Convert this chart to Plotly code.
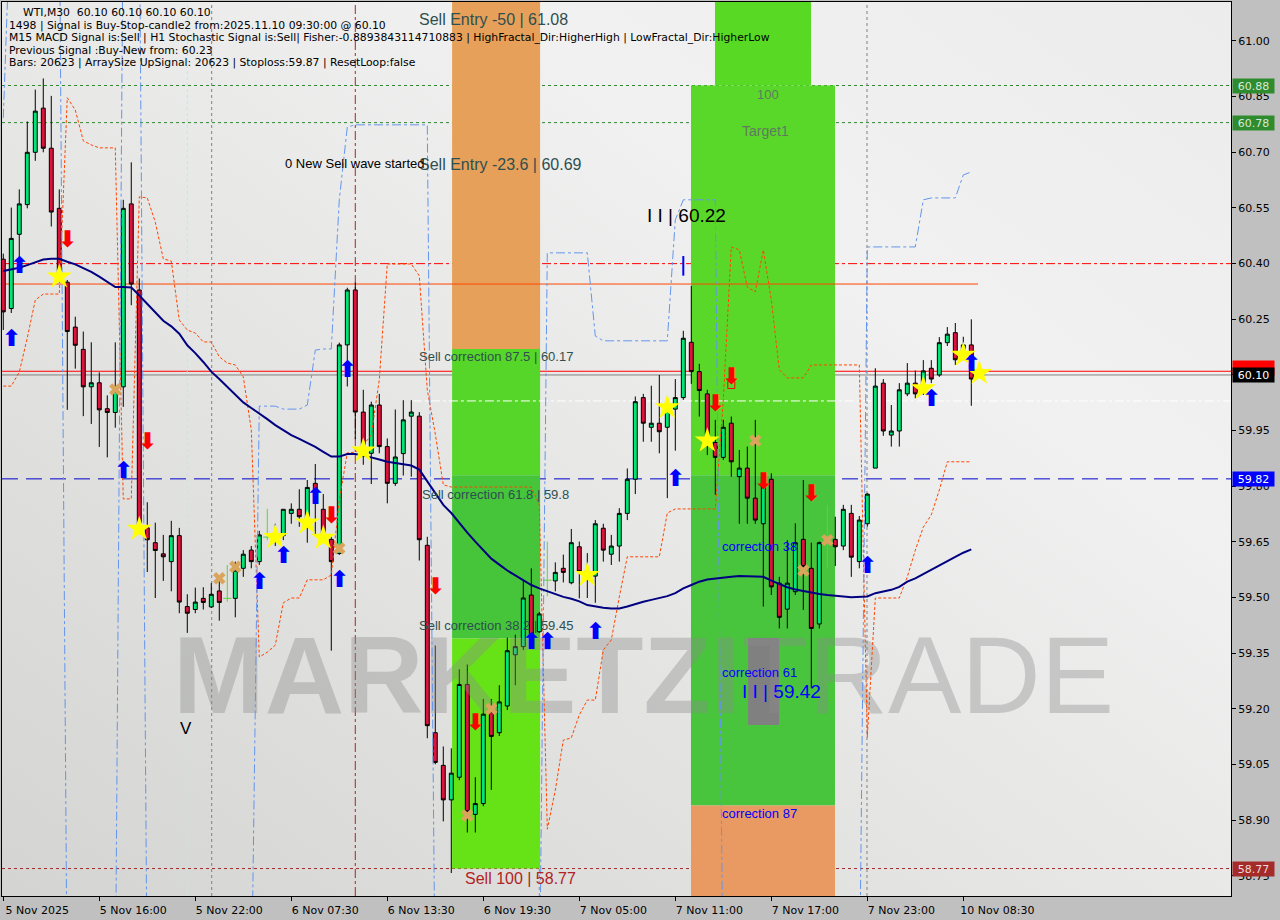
import base64
import plotly.graph_objects as go

# ------------------------------------------------------------------ data
bars = list(range(122))
opens = [60.412, 60.279, 60.479, 60.559, 60.700, 60.819, 60.711, 60.549, 60.350, 60.229,
         60.169, 60.068, 60.079, 60.009, 59.999, 60.068, 60.561, 60.329, 59.688, 59.648,
         59.618, 59.597, 59.667, 59.476, 59.468, 59.498, 59.475, 59.518, 59.498, 59.498,
         59.579, 59.628, 59.597, 59.663, 59.663, 59.667, 59.727, 59.738, 59.700, 59.808,
         59.738, 59.657, 59.619, 60.181, 60.329, 60.000, 59.889, 60.019, 59.907, 59.808,
         59.888, 59.989, 59.989, 59.641, 59.136, 59.048, 58.955, 59.016, 59.266, 58.916,
         58.945, 59.190, 59.136, 59.208, 59.346, 59.368, 59.507, 59.408, 59.547, 59.545,
         59.579, 59.540, 59.637, 59.553, 59.558, 59.687, 59.617, 59.639, 59.727, 59.819,
         60.039, 59.959, 59.970, 59.959, 60.008, 60.039, 60.188, 60.109, 60.049, 59.918,
         59.878, 59.970, 59.826, 59.849, 59.768, 59.699, 59.819, 59.539, 59.469, 59.516,
         59.657, 59.579, 59.429, 59.655, 59.657, 59.639, 59.727, 59.597, 59.699, 59.849,
         60.078, 59.938, 59.949, 60.049, 60.078, 60.067, 60.118, 60.100, 60.187, 60.214,
         60.158, 60.181]
highs = [60.427, 60.551, 60.600, 60.783, 60.869, 60.899, 60.852, 60.600, 60.356, 60.257,
         60.217, 60.188, 60.107, 60.045, 60.188, 60.572, 60.673, 60.360, 59.757, 59.702,
         59.669, 59.707, 59.688, 59.509, 59.527, 59.528, 59.539, 59.547, 59.588, 59.597,
         59.628, 59.639, 59.680, 59.739, 59.699, 59.738, 59.754, 59.792, 59.817, 59.860,
         59.779, 59.669, 60.187, 60.335, 60.349, 60.060, 60.028, 60.049, 59.929, 60.007,
         60.032, 60.032, 60.000, 59.664, 59.371, 59.099, 59.094, 59.307, 59.320, 59.016,
         59.227, 59.227, 59.264, 59.392, 59.400, 59.545, 59.579, 59.461, 59.651, 59.595,
         59.616, 59.685, 59.651, 59.620, 59.709, 59.699, 59.669, 59.741, 59.848, 60.042,
         60.049, 60.071, 60.100, 60.019, 60.089, 60.219, 60.340, 60.130, 60.060, 59.979,
         59.979, 59.988, 59.898, 59.907, 59.979, 59.817, 59.835, 59.556, 59.655, 59.700,
         59.817, 59.648, 59.651, 59.750, 59.718, 59.750, 59.750, 59.720, 59.781, 60.118,
         60.089, 60.019, 60.078, 60.132, 60.112, 60.140, 60.140, 60.202, 60.229, 60.240,
         60.203, 60.250]
lows = [60.221, 60.267, 60.417, 60.549, 60.677, 60.700, 60.500, 60.350, 60.006, 60.117,
        59.989, 59.968, 59.906, 59.878, 59.958, 60.014, 60.288, 59.684, 59.569, 59.499,
        59.545, 59.517, 59.458, 59.405, 59.458, 59.468, 59.472, 59.438, 59.489, 59.447,
        59.556, 59.579, 59.588, 59.655, 59.639, 59.655, 59.699, 59.691, 59.648, 59.669,
        59.655, 59.357, 59.615, 60.069, 59.927, 59.858, 59.806, 59.889, 59.754, 59.801,
        59.829, 59.826, 59.600, 59.121, 59.051, 58.897, 58.758, 59.008, 58.867, 58.867,
        58.938, 58.982, 59.127, 59.197, 59.264, 59.359, 59.394, 59.405, 59.504, 59.517,
        59.541, 59.536, 59.498, 59.499, 59.486, 59.597, 59.588, 59.597, 59.709, 59.779,
        59.920, 59.920, 59.889, 59.768, 59.896, 60.033, 60.076, 59.988, 59.884, 59.777,
        59.871, 59.826, 59.699, 59.699, 59.699, 59.476, 59.507, 59.417, 59.417, 59.507,
        59.467, 59.256, 59.417, 59.580, 59.585, 59.628, 59.556, 59.579, 59.691, 59.849,
        59.936, 59.907, 59.907, 60.043, 60.037, 60.046, 60.078, 60.095, 60.178, 60.127,
        60.140, 60.017]
closes = [60.270, 60.468, 60.561, 60.700, 60.811, 60.711, 60.539, 60.360, 60.217, 60.180,
          60.068, 60.079, 60.006, 59.999, 60.056, 60.549, 60.345, 59.695, 59.656, 59.627,
          59.610, 59.667, 59.488, 59.458, 59.488, 59.487, 59.509, 59.487, 59.498, 59.574,
          59.617, 59.597, 59.669, 59.663, 59.666, 59.738, 59.738, 59.718, 59.797, 59.754,
          59.669, 59.597, 60.181, 60.329, 60.000, 59.889, 60.019, 59.907, 59.808, 59.879,
          59.979, 60.000, 59.656, 59.155, 59.056, 58.955, 59.027, 59.266, 58.923, 58.945,
          59.186, 59.126, 59.219, 59.357, 59.368, 59.499, 59.400, 59.456, 59.547, 59.568,
          59.568, 59.648, 59.570, 59.574, 59.699, 59.628, 59.639, 59.727, 59.819, 60.028,
          59.970, 59.970, 59.947, 60.010, 60.039, 60.199, 60.109, 60.058, 59.918, 59.878,
          59.959, 59.866, 59.849, 59.768, 59.709, 59.808, 59.529, 59.447, 59.539, 59.648,
          59.584, 59.417, 59.648, 59.655, 59.637, 59.738, 59.609, 59.709, 59.779, 60.070,
          59.949, 59.949, 60.060, 60.078, 60.049, 60.111, 60.089, 60.187, 60.210, 60.141,
          60.181, 60.089]

moving_average = [60.380, 60.384, 60.389, 60.396, 60.403, 60.411, 60.413, 60.413, 60.405, 60.398,
                  60.388, 60.378, 60.365, 60.350, 60.337, 60.337, 60.336, 60.314, 60.291, 60.267,
                  60.246, 60.231, 60.211, 60.180, 60.159, 60.135, 60.109, 60.089, 60.068, 60.046,
                  60.026, 60.011, 59.997, 59.981, 59.965, 59.952, 59.938, 59.928, 59.918, 59.906,
                  59.893, 59.880, 59.880, 59.887, 59.887, 59.883, 59.878, 59.872, 59.866, 59.863,
                  59.860, 59.856, 59.845, 59.813, 59.779, 59.750, 59.728, 59.701, 59.675, 59.651,
                  59.627, 59.605, 59.589, 59.573, 59.560, 59.547, 59.534, 59.525, 59.517, 59.510,
                  59.502, 59.497, 59.490, 59.480, 59.476, 59.473, 59.471, 59.471, 59.476, 59.483,
                  59.489, 59.494, 59.498, 59.504, 59.512, 59.525, 59.534, 59.543, 59.549, 59.552,
                  59.555, 59.556, 59.558, 59.558, 59.558, 59.556, 59.546, 59.537, 59.528, 59.522,
                  59.518, 59.512, 59.510, 59.507, 59.504, 59.503, 59.501, 59.501, 59.503, 59.512,
                  59.516, 59.521, 59.529, 59.543, 59.552, 59.564, 59.574, 59.588, 59.600, 59.610,
                  59.621, 59.630]

orange_band = ([60.070, 60.070, 60.108, 60.200, 60.302, 60.318, 60.318, 60.318, 60.847, 60.814,
                60.731, 60.720, 60.712, 60.712, 60.712, 59.766, 59.766, 60.580, 60.577, 60.512,
                60.413, 60.407, 60.248, 60.221, 60.213, 60.189, 60.189, 60.149, 60.132, 60.127,
                60.095, 59.952, 59.340, 59.353, 59.372, 59.486, 59.499, 59.499, 59.548, 59.548,
                59.548, 59.561, 59.763, 59.890, 59.892, 59.911, 59.938, 60.087, 60.399, 60.399,
                60.399, 60.399, 60.367, 60.060, 59.941, 59.804]
               + [59.798] * 11
               + [59.750, 58.876, 58.981, 59.116, 59.122, 59.184, 59.224, 59.224, 59.359, 59.386,
                  59.502]
               + [59.610] * 5 + [59.728] + [59.739] * 6
               + [60.033, 60.445, 60.437, 60.337, 60.324, 60.437, 60.302, 60.114]
               + [60.092] * 3 + [60.127] * 7 + [59.124] + [59.499] * 4
               + [59.556, 59.628, 59.690, 59.723, 59.790] + [59.866] * 4)

# values outside the visible range are written as 61.40 (above) / 58.40 (below)
blue_band = ([60.793] + [61.40] * 7 + [58.40] * 7 + [61.40] * 3 + [58.40] * 14
             + [60.016, 60.016, 60.016, 60.008, 60.008, 60.008, 60.019, 60.167, 60.170, 60.170,
                60.572, 60.768]
             + [60.774] * 10 + [58.40] * 14 + [60.429] * 6 + [60.205] + [60.192] * 9
             + [60.518] + [60.572] * 5 + [58.40] * 18 + [60.445] * 7 + [60.572]
             + [60.577] * 4 + [60.639, 60.647])

x_tick_bars = [0, 12, 24, 36, 48, 60, 72, 84, 96, 108, 120]
x_tick_labels = ["5 Nov 2025", "5 Nov 16:00", "5 Nov 22:00", "6 Nov 07:30", "6 Nov 13:30",
                 "6 Nov 19:30", "7 Nov 05:00", "7 Nov 11:00", "7 Nov 17:00", "7 Nov 23:00",
                 "10 Nov 08:30"]
y_tick_values = [61.00, 60.85, 60.70, 60.55, 60.40, 60.25, 60.10, 59.95, 59.80, 59.65,
                 59.50, 59.35, 59.20, 59.05, 58.90, 58.75]

buy_arrow_bars = [1, 2, 15, 32, 35, 39, 42, 43, 66, 68, 74, 84, 108, 116, 121]
buy_arrow_prices = [60.194, 60.391, 59.839, 59.539, 59.610, 59.768, 59.543, 60.109, 59.376,
                    59.376, 59.405, 59.817, 59.583, 60.033, 60.127]
sell_arrow_bars = [8, 18, 41, 54, 59, 89, 91, 95, 101]
sell_arrow_prices = [60.459, 59.917, 59.717, 59.526, 59.158, 60.019, 60.092, 59.808, 59.777]
star_bars = [7, 17, 34, 38, 40, 45, 73, 83, 88, 115, 120, 122]
star_prices = [60.365, 59.685, 59.663, 59.702, 59.661, 59.896, 59.561, 60.013, 59.923, 60.064,
               60.154, 60.105]
cross_bars = [14, 27, 29, 42, 58, 61, 94, 100, 103]
cross_prices = [60.061, 59.552, 59.583, 59.633, 58.913, 59.200, 59.923, 59.573, 59.655]

# levels
target_100 = 60.88
target_1 = 60.78
sell_stop_line = 60.40
orange_level = 60.345
ask_level = 60.11
bid_level = 60.10
stoploss_level = 59.82
sell_100 = 58.77
mid_level = 60.03

header_lines = [
    "WTI,M30  60.10 60.10 60.10 60.10",
    "1498 | Signal is Buy-Stop-candle2 from:2025.11.10 09:30:00 @ 60.10",
    "M15 MACD Signal is:Sell | H1 Stochastic Signal is:Sell| Fisher:-0.8893843114710883 | HighFractal_Dir:HigherHigh | LowFractal_Dir:HigherLow",
    "Previous Signal :Buy-New from: 60.23",
    "Bars: 20623 | ArraySize UpSignal: 20623 | Stoploss:59.87 | ResetLoop:false",
]

# ------------------------------------------------------------------ layout constants
X_RANGE = [-0.16, 153.46]
Y_RANGE = [58.696, 61.105]
ARIAL = "Liberation Sans, Arial, sans-serif"
TAHOMA = "DejaVu Sans, Verdana, sans-serif"

fig = go.Figure()

# watermark (behind everything)
fig.add_trace(go.Scatter(
    x=[X_RANGE[0] + 0.522 * (X_RANGE[1] - X_RANGE[0])],
    y=[Y_RANGE[0] + 0.236 * (Y_RANGE[1] - Y_RANGE[0])],
    mode="text", text=["<b>MARKETZI</b>TRADE"],
    textfont=dict(family=ARIAL, size=110, color="rgba(140,140,140,0.38)"),
    hoverinfo="skip", showlegend=False))

# candles
normal = [i for i in bars if opens[i] != closes[i]]
doji = [i for i in bars if opens[i] == closes[i]]
fig.add_trace(go.Candlestick(
    x=[bars[i] for i in normal], open=[opens[i] for i in normal],
    high=[highs[i] for i in normal], low=[lows[i] for i in normal],
    close=[closes[i] for i in normal],
    increasing=dict(line=dict(color="black", width=1), fillcolor="#00E676"),
    decreasing=dict(line=dict(color="black", width=1), fillcolor="#DC143C"),
    whiskerwidth=0, hoverinfo="skip", showlegend=False))

dx, dy = [], []
for i in doji:
    dx += [bars[i], bars[i], None]
    dy += [lows[i], highs[i], None]
fig.add_trace(go.Scatter(x=dx, y=dy, mode="lines", line=dict(color="#5CD43A", width=1),
                         hoverinfo="skip", showlegend=False))
fig.add_trace(go.Scatter(x=[bars[i] for i in doji], y=[closes[i] for i in doji], mode="markers",
                         marker=dict(symbol="line-ew", size=6, line=dict(color="#5CD43A", width=1)),
                         hoverinfo="skip", showlegend=False))

# indicator lines
fig.add_trace(go.Scatter(x=bars, y=orange_band, mode="lines",
                         line=dict(color="#FF4500", width=1, dash="3px,2px"),
                         hoverinfo="skip", showlegend=False))
fig.add_trace(go.Scatter(x=bars, y=blue_band, mode="lines",
                         line=dict(color="#6495ED", width=1, dash="dashdot"),
                         hoverinfo="skip", showlegend=False))
fig.add_trace(go.Scatter(x=bars, y=moving_average, mode="lines",
                         line=dict(color="#000080", width=2),
                         hoverinfo="skip", showlegend=False))

# signal markers
fig.add_trace(go.Scatter(x=cross_bars, y=cross_prices, mode="markers",
                         marker=dict(symbol="x", size=11, color="#D9A45C", line=dict(width=0)),
                         hoverinfo="skip", showlegend=False))
fig.add_trace(go.Scatter(x=star_bars, y=star_prices, mode="markers",
                         marker=dict(symbol="star", size=19, color="#FFFF00", line=dict(width=0)),
                         hoverinfo="skip", showlegend=False))
fig.add_trace(go.Scatter(x=buy_arrow_bars, y=buy_arrow_prices, mode="text",
                         text=["<b>\u2b06</b>"] * len(buy_arrow_bars),
                         textfont=dict(family="DejaVu Sans", size=23, color="#0000FF"),
                         hoverinfo="skip", showlegend=False))
fig.add_trace(go.Scatter(x=sell_arrow_bars, y=sell_arrow_prices, mode="text",
                         text=["<b>\u2b07</b>"] * len(sell_arrow_bars),
                         textfont=dict(family="DejaVu Sans", size=23, color="#FF0000"),
                         hoverinfo="skip", showlegend=False))
fig.add_trace(go.Scatter(x=[85], y=[60.394], mode="markers",
                         marker=dict(symbol="line-ns", size=14, line=dict(color="#0000FF", width=2)),
                         hoverinfo="skip", showlegend=False))
fig.add_trace(go.Scatter(x=[91], y=[60.073], mode="markers",
                         marker=dict(symbol="square-open", size=7, color="#FF0000"),
                         hoverinfo="skip", showlegend=False))

# ------------------------------------------------------------------ zones
zones = [
    # bar_start, bar_end, price_low, price_high, colour
    (56.1, 67.1, 60.17, 61.40, "#E6A05A"),
    (56.1, 67.1, 59.83, 60.17, "#57D62A"),
    (56.1, 67.1, 59.39, 59.83, "#46C53B"),
    (56.1, 67.1, 58.77, 59.39, "#66E317"),
    (88.96, 100.96, 60.88, 61.40, "#58DA24"),
    (85.96, 103.96, 59.83, 60.88, "#5AD82A"),
    (85.96, 103.96, 58.94, 59.83, "#48C53C"),
    (85.96, 103.96, 58.40, 58.94, "#E89A62"),
    (93.1, 96.97, 59.157, 59.391, "#808080"),
]
for x0, x1, y0, y1, col in zones:
    fig.add_shape(type="rect", xref="x", yref="y", x0=x0, x1=x1, y0=y0, y1=y1,
                  fillcolor=col, line=dict(width=0), layer="below")

# horizontal levels
hlines = [
    (target_100, "#2E8B2E", "dot", 0, 1, "paper"),
    (target_1, "#2E8B2E", "dot", 0, 1, "paper"),
    (sell_stop_line, "#FF0000", "dashdot", 0, 1, "paper"),
    (orange_level, "#FF4500", "solid", -1, 121.84, "x"),
    (ask_level, "#FF0000", "solid", 0, 1, "paper"),
    (bid_level, "#808080", "solid", 0, 1, "paper"),
    (stoploss_level, "#0000CC", "16px,8px", 0, 1, "paper"),
    (sell_100, "#A52A2A", "dot", 0, 1, "paper"),
    (mid_level, "#FFFFFF", "dashdot", 51.2, 153.5, "x"),
]
for lvl, col, dash, x0, x1, xr in hlines:
    fig.add_shape(type="line", xref=xr, yref="y", x0=x0, x1=x1, y0=lvl, y1=lvl,
                  line=dict(color=col, width=1, dash=dash), layer="below")

# vertical time markers
vlines = [(23.0, "#AFEEEE", "dot"), (26.05, "#808080", "dot"), (44.0, "#B22222", "dashdot"),
          (67.0, "#909090", "dot"), (107.96, "#808080", "dot")]
for xv, col, dash in vlines:
    fig.add_shape(type="line", xref="x", yref="paper", x0=xv, x1=xv, y0=0, y1=1,
                  line=dict(color=col, width=1, dash=dash), layer="below")

# ------------------------------------------------------------------ chart texts
texts = [
    ("Sell Entry -50 | 61.08", 51.71, 61.057, 16, "#2F4F4F", ARIAL),
    ("Sell Entry -23.6 | 60.69", 51.71, 60.666, 16, "#2F4F4F", ARIAL),
    ("0 New Sell wave started", 34.96, 60.671, 13, "#000000", ARIAL),
    ("I I | 60.22", 80.21, 60.531, 19, "#000000", ARIAL),
    ("100", 93.96, 60.857, 13, "#5F7A5F", ARIAL),
    ("Target1", 92.09, 60.758, 14, "#5F7A5F", ARIAL),
    ("Sell correction 87.5 | 60.17", 51.71, 60.149, 13, "#2F4F4F", ARIAL),
    ("Sell correction 61.8 | 59.8", 52.09, 59.777, 13, "#2F4F4F", ARIAL),
    ("Sell correction 38.2 | 59.45", 51.71, 59.426, 13, "#2F4F4F", ARIAL),
    ("Sell 100 | 58.77", 57.46, 58.744, 16, "#B22222", ARIAL),
    ("correction 38", 89.59, 59.637, 13, "#0000FF", ARIAL),
    ("correction 61", 89.59, 59.297, 13, "#0000FF", ARIAL),
    ("I I | 59.42", 92.09, 59.248, 19, "#0000FF", ARIAL),
    ("correction 87", 89.59, 58.917, 13, "#0000FF", ARIAL),
    ("V", 21.84, 59.148, 17, "#000000", ARIAL),
]
for t, xb, yp, sz, col, fam in texts:
    fig.add_annotation(x=xb, y=yp, xref="x", yref="y", text=t, showarrow=False,
                       xanchor="left", yanchor="middle",
                       font=dict(family=fam, size=sz, color=col))

# header (pixel offsets from the plot's top-left corner)
header_pos = [(19, 10.7), (5, 23.0), (5, 35.3), (5, 48.0), (5, 60.3)]
for line, (px, py) in zip(header_lines, header_pos):
    fig.add_annotation(x=0, y=1, xref="paper", yref="paper", text=line, showarrow=False,
                       xanchor="left", yanchor="middle", xshift=px, yshift=-py,
                       font=dict(family=TAHOMA, size=10.8, color="#000000"))

# price labels on the right axis
price_labels = [
    (target_100, "60.88", "#2E8B2E", "#D8E8D8"),
    (target_1, "60.78", "#2E8B2E", "#D8E8D8"),
    (60.118, "60.11", "#FF0000", "#FF0000"),
    (bid_level, "60.10", "#000000", "#FFFFFF"),
    (stoploss_level, "59.82", "#0000FF", "#FFFFFF"),
    (sell_100, "58.77", "#A52A2A", "#EED8D8"),
]
for p, t, bg, fc in price_labels:
    fig.add_annotation(x=1, y=p, xref="paper", yref="y", text=t, showarrow=False,
                       xanchor="left", yanchor="middle", xshift=1, width=41, height=14,
                       borderpad=0, bgcolor=bg, align="center",
                       font=dict(family=TAHOMA, size=11, color=fc))

# background gradient of the chart area
svg = ('<svg xmlns="http://www.w3.org/2000/svg" width="100" height="100" viewBox="0 0 100 100" '
       'preserveAspectRatio="none"><defs><linearGradient id="g" x1="0" y1="1" x2="1" y2="0">'
       '<stop offset="0" stop-color="#D4D4D2"/><stop offset="0.7" stop-color="#F1F1F1"/>'
       '<stop offset="1" stop-color="#ECECEC"/></linearGradient></defs>'
       '<rect width="100" height="100" fill="url(#g)"/></svg>')
bg_src = "data:image/svg+xml;base64," + base64.b64encode(svg.encode()).decode()

fig.update_layout(
    width=1280, height=920,
    margin=dict(l=2, r=49, t=2, b=24),
    paper_bgcolor="#C0C0C0", plot_bgcolor="rgba(0,0,0,0)",
    showlegend=False,
    images=[dict(source=bg_src, xref="paper", yref="paper", x=0, y=1, sizex=1, sizey=1,
                 xanchor="left", yanchor="top", sizing="stretch", layer="below")],
    xaxis=dict(range=X_RANGE, showgrid=False, zeroline=False, rangeslider=dict(visible=False),
               tickmode="array", tickvals=x_tick_bars, ticktext=x_tick_labels,
               ticks="outside", ticklen=4, tickcolor="black", ticklabelshift=34,
               tickfont=dict(family=TAHOMA, size=11, color="black"),
               showline=True, linecolor="black", linewidth=1, mirror=True),
    yaxis=dict(range=Y_RANGE, side="right", showgrid=False, zeroline=False,
               tickmode="array", tickvals=y_tick_values, tickformat=".2f",
               ticks="outside", ticklen=4, tickcolor="black",
               tickfont=dict(family=TAHOMA, size=11, color="black"),
               showline=True, linecolor="black", linewidth=1, mirror=True),
)

fig.write_html("out.html", config={"displayModeBar": False},
               post_script="document.body.style.margin='0';document.body.style.padding='0';"
                           "document.body.style.background='#C0C0C0';")
